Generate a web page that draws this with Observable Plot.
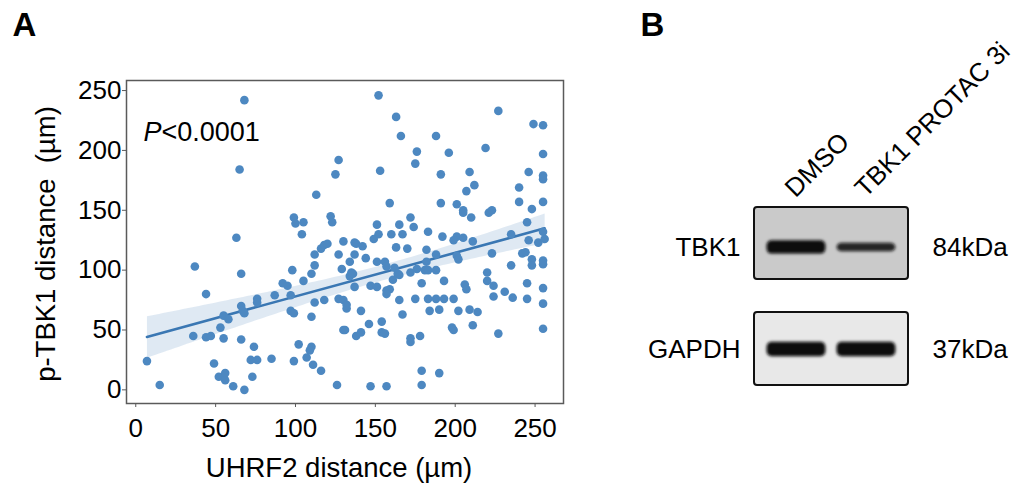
<!DOCTYPE html>
<html><head><meta charset="utf-8">
<script src="https://cdn.jsdelivr.net/npm/d3@7"></script>
<script src="https://cdn.jsdelivr.net/npm/@observablehq/plot@0.6"></script>
<style>
html,body{margin:0;padding:0;background:#fff;}
#wrap{position:relative;width:1021px;height:489px;overflow:hidden;}
#a{position:absolute;left:0;top:0;}
#b{position:absolute;left:600px;top:0;}
</style></head><body><div id="wrap"><div id="a"></div><div id="b"></div></div>
<script>
// ---- Panel A data ----
const uhrf2Distance = [68,65,127,125,113,99,100,105,122,123,104,63,116,118,120,130,152,163,166,227,249,255,188,176,196,219,175,255,153,191,209,246,255,255,212,207,240,159,191,201,205,205,210,221,223,240,255,248,245,151,165,172,174,183,192,201,205,199,211,235,255,152,149,160,167,137,246,252,256,7,15,37,44,66,36,44,47,53,55,58,55,49,52,56,56,61,68,66,67,68,66,74,72,76,73,76,76,87,85,92,95,97,98,97,99,102,99,105,110,112,112,110,112,118,110,109,107,111,116,126,127,129,127,130,132,131,130,134,134,138,142,137,144,151,156,157,162,163,170,182,188,201,202,182,172,176,181,183,188,165,164,135,136,137,147,151,161,157,159,157,179,193,165,175,183,188,193,199,167,184,190,202,209,214,206,207,220,223,220,224,224,231,236,235,242,244,248,248,255,255,245,245,255,255,255,141,132,138,141,146,154,154,156,172,172,178,198,199,211,227,179,190,179,147,157];
const ptbk1Distance = [242,184,192,180,163,144,139,140,145,140,130,127,118,121,122,124,246,228,212,233,222,221,212,199,198,202,189,197,183,180,182,182,179,176,171,166,169,156,156,155,150,148,144,148,150,157,157,151,140,138,138,144,136,132,128,128,127,125,124,130,132,130,126,130,130,123,125,123,126,24,4,103,80,97,45,44,45,52,62,59,43,22,11,14,8,3,0,70,66,64,42,36,25,25,11,76,73,79,26,89,87,79,100,66,64,38,24,91,97,104,113,61,73,75,36,33,27,21,16,4,113,101,76,75,68,50,50,107,95,122,120,113,110,107,107,103,102,119,118,117,113,112,109,107,98,101,100,100,100,96,97,98,97,86,87,86,92,83,84,80,89,91,75,76,76,76,76,76,63,66,67,66,67,65,88,84,98,114,91,87,78,82,77,104,114,115,109,104,105,108,89,76,85,72,51,66,71,45,48,55,57,48,47,43,40,45,52,50,54,47,16,14,4,3,3];
const xTicks = [0,50,100,150,200,250];
const yTicks = [0,50,100,150,200,250];
const xLabel = "UHRF2 distance (µm)";
const yLabel = "p-TBK1 distance\u00a0 (µm)";
const pItalic = "P";
const pRest = "<0.0001";

// ---- Panel B data ----
const lanes = ["DMSO", "TBK1 PROTAC 3i"];
const proteins = ["TBK1", "GAPDH"];
const weights = ["84kDa", "37kDa"];
const bandIntensity = [[1.0, 0.88], [1.0, 1.0]];
const bandThickness = [[0.13, 0.085], [0.14, 0.14]];

const FONT = '"Liberation Sans", Arial, Helvetica, sans-serif';

const points = uhrf2Distance.map((x, i) => ({x, y: ptbk1Distance[i]}));

const plotA = Plot.plot({
  width: 600, height: 489,
  marginLeft: 126, marginRight: 37, marginTop: 80, marginBottom: 86,
  style: {fontFamily: FONT, fontSize: "26px", color: "#000", background: "transparent", overflow: "visible"},
  x: {domain: [-5.8, 267.8]},
  y: {domain: [-11.4, 258.4]},
  marks: [
    Plot.linearRegressionY(points, {x: "x", y: "y", stroke: "#3a77b3", strokeWidth: 2.6, fill: "#3a77b3", fillOpacity: 0.16, ci: 0.95}),
    Plot.dot(points, {x: "x", y: "y", r: 4.3, fill: "#4d88c1", stroke: "none"}),
    Plot.frame({stroke: "#5a5a5a", strokeWidth: 1.5}),
    Plot.axisX(xTicks, {tickSize: 4, tickPadding: 11, stroke: "#5a5a5a", fill: "#000", fontSize: 26, label: null}),
    Plot.axisY(yTicks, {tickSize: 4, tickPadding: 1, stroke: "#5a5a5a", fill: "#000", fontSize: 26, label: null}),
    Plot.text([xLabel], {text: d => d, frameAnchor: "bottom", textAnchor: "middle", dx: -6, dy: 65, lineAnchor: "middle", fontSize: 27.5, fill: "#000"}),
    Plot.text([yLabel], {text: d => d, frameAnchor: "left", textAnchor: "middle", rotate: -90, dx: -80, dy: 2, lineAnchor: "middle", fontSize: 27.5, fill: "#000"}),
    Plot.text([pItalic], {text: d => d, frameAnchor: "top-left", dx: 17, dy: 52, textAnchor: "start", lineAnchor: "middle", fontStyle: "italic", fontSize: 27, fill: "#000"}),
    Plot.text([pRest], {text: d => d, frameAnchor: "top-left", dx: 35, dy: 52, textAnchor: "start", lineAnchor: "middle", fontSize: 27, fill: "#000"}),
    Plot.text(["A"], {text: d => d, frameAnchor: "top-left", dx: -114, dy: -55, textAnchor: "start", lineAnchor: "middle", fontWeight: "bold", fontSize: 33, fill: "#000"})
  ]
});
document.getElementById("a").appendChild(plotA);

const rows = proteins.map((p, r) => ({row: r, protein: p, weight: weights[r]}));
const bands = [];
proteins.forEach((p, r) => lanes.forEach((l, c) => bands.push({row: r, lane: c, intensity: bandIntensity[r][c], thickness: bandThickness[r][c]})));

const plotB = Plot.plot({
  width: 421, height: 489,
  marginLeft: 154, marginRight: 113, marginTop: 207, marginBottom: 104,
  style: {fontFamily: FONT, fontSize: "26px", color: "#000", background: "transparent", overflow: "visible"},
  x: {domain: [-0.6, 1.6], axis: null},
  y: {domain: [-0.392, 1.353], reverse: true, axis: null},
  color: {type: "identity"},
  opacity: {type: "identity"},
  marks: [
    Plot.rect(rows, {
      x1: () => -0.6, x2: () => 1.6,
      y1: d => d.row - (d.row === 0 ? 0.392 : 0.363),
      y2: d => d.row + (d.row === 0 ? 0.314 : 0.353),
      fill: d => d.row === 0 ? "#cacaca" : "#e8e8e8",
      stroke: "#111", strokeWidth: 2, rx: 3
    }),
    Plot.rect(bands, {
      x1: d => d.lane - 0.42, x2: d => d.lane + 0.42,
      y1: d => d.row - d.thickness / 2, y2: d => d.row + d.thickness / 2,
      fill: "#0a0a0a", fillOpacity: d => d.intensity, rx: 5
    }),
    Plot.text(rows, {y: "row", text: "protein", frameAnchor: "left", dx: -14, textAnchor: "end", lineAnchor: "middle", fontSize: 26, fill: "#000"}),
    Plot.text(rows, {y: "row", text: "weight", frameAnchor: "right", dx: 24, textAnchor: "start", lineAnchor: "middle", fontSize: 26, fill: "#000"}),
    Plot.text(lanes, {x: (d, i) => i, text: d => d, frameAnchor: "top", rotate: -45, textAnchor: "start", dx: -14, dy: -22, fontSize: 26, fill: "#000"}),
    Plot.text(["B"], {text: d => d, frameAnchor: "top-left", dx: -114, dy: -182, textAnchor: "start", lineAnchor: "middle", fontWeight: "bold", fontSize: 33, fill: "#000"})
  ]
});
document.getElementById("b").appendChild(plotB);

// soften blot bands
const svgB = d3.select(plotB);
const defs = svgB.insert("defs", ":first-child");
defs.append("filter").attr("id", "bandBlur").attr("x", "-20%").attr("y", "-150%").attr("width", "140%").attr("height", "400%")
  .append("feGaussianBlur").attr("stdDeviation", 1.8);
svgB.selectAll('g[aria-label="rect"]').filter((d, i) => i === 1).attr("filter", "url(#bandBlur)");
</script>
</body></html>
